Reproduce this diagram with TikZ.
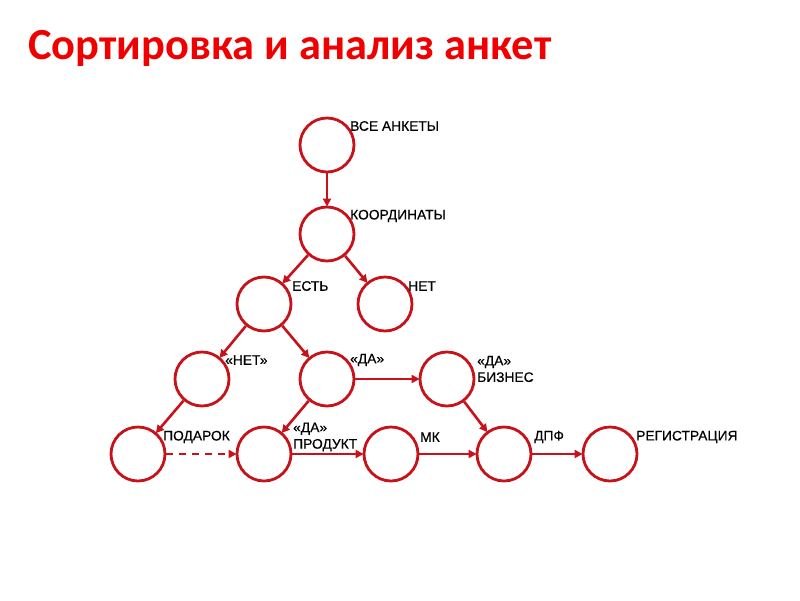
\documentclass[tikz,border=0pt]{standalone}
\usepackage{fontspec}
\setmainfont{Liberation Sans}
\newfontfamily\lblfont[FakeBold=0.5]{Liberation Sans}
\newfontfamily\titlefont{Carlito}
\usetikzlibrary{arrows.meta,positioning}
\definecolor{linered}{RGB}{200,18,26}
\definecolor{titlered}{RGB}{240,0,0}

\begin{document}
\begin{tikzpicture}[x=1pt, y=-1pt,
  stage/.style={draw=linered, circle, line width=2.8pt, fill=white, minimum size=54pt, inner sep=0pt},
  lbl/.style={anchor=west, font=\lblfont\fontsize{13.8}{16.5}\selectfont, inner sep=0pt, align=left},
  flow/.style={-{Triangle[length=8pt, width=8pt]}, line width=2.6pt, linered, shorten >=-1pt}]
  \useasboundingbox (0,0) rectangle (800,600);
  % title
  \node[anchor=west, inner sep=0pt, text=titlered, font=\titlefont\bfseries\fontsize{44.4}{50}\selectfont] (title) at (28,48) {Сортировка и анализ анкет};
  % stages
  \node[stage] (all) at (327,145) {};
  \node[stage] (coord) at (327,234) {};
  \node[stage] (yes) at (264,304) {};
  \node[stage] (no) at (385,304) {};
  \node[stage] (qno) at (202,379) {};
  \node[stage] (qyes) at (327,379) {};
  \node[stage] (biz) at (447,379) {};
  \node[stage] (gift) at (138,454) {};
  \node[stage] (prod) at (264,454) {};
  \node[stage] (mk) at (391,454) {};
  \node[stage] (dpf) at (504,454) {};
  \node[stage] (reg) at (610,454) {};
  % labels
  \node[lbl] (tall) at (350,126) {ВСЕ АНКЕТЫ};
  \node[lbl] (tcoord) at (350,216) {КООРДИНАТЫ};
  \node[lbl] (tyes) at (292,286) {ЕСТЬ};
  \node[lbl] (tno) at (408,286) {НЕТ};
  \node[lbl] (tqno) at (225,360) {«НЕТ»};
  \node[lbl] (tqyes) at (350,360) {«ДА»};
  \node[lbl] (tbiz) at (477,369) {«ДА»\\БИЗНЕС};
  \node[lbl] (tgift) at (163,437) {ПОДАРОК};
  \node[lbl] (tprod) at (293,437) {«ДА»\\ПРОДУКТ};
  \node[lbl] (tmk) at (420,437) {МК};
  \node[lbl] (tdpf) at (534,437) {ДПФ};
  \node[lbl] (treg) at (636,437) {РЕГИСТРАЦИЯ};
  % links
  \draw[flow] (all) -- (coord);
  \draw[flow] (coord) -- (yes);
  \draw[flow] (coord) -- (no);
  \draw[flow] (yes) -- (qno);
  \draw[flow] (yes) -- (qyes);
  \draw[flow] (qyes) -- (biz);
  \draw[flow] (qyes) -- (prod);
  \draw[flow] (qno) -- (gift);
  \draw[flow, dash pattern=on 7pt off 6pt] (gift) -- (prod);
  \draw[flow] (prod) -- (mk);
  \draw[flow] (mk) -- (dpf);
  \draw[flow] (biz) -- (dpf);
  \draw[flow] (dpf) -- (reg);
\end{tikzpicture}
\end{document}
